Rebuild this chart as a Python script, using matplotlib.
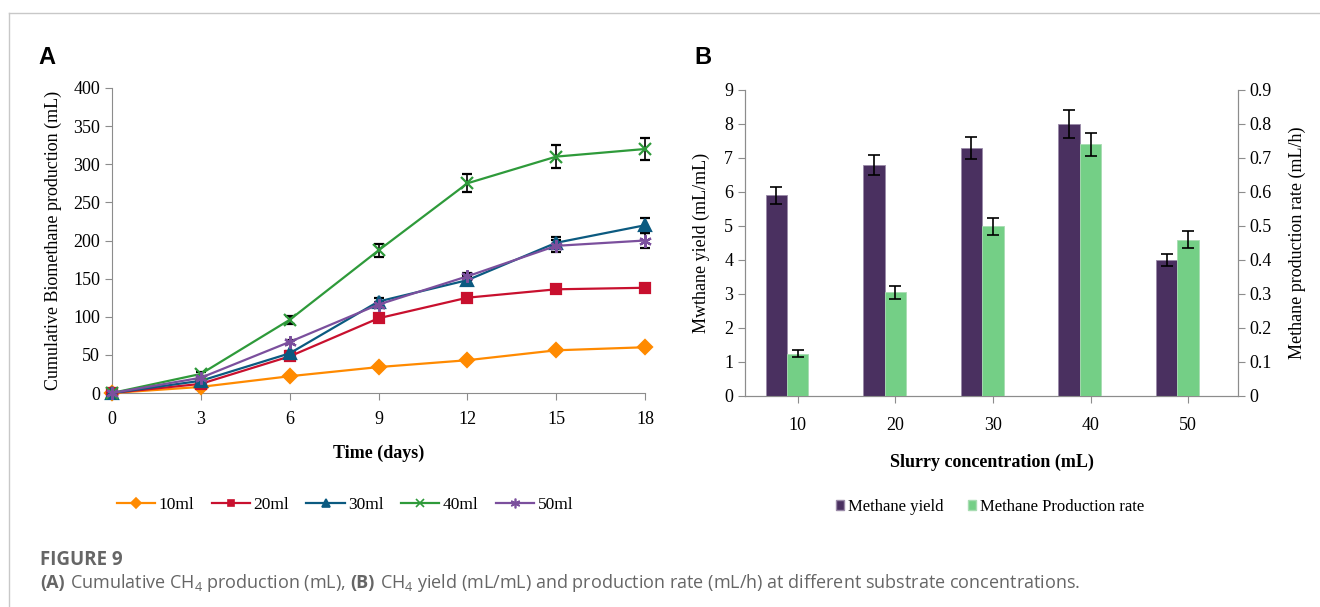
import numpy as np
import matplotlib
matplotlib.use("Agg")
import matplotlib.pyplot as plt
from matplotlib.lines import Line2D
from matplotlib.patches import Patch

plt.rcParams['font.family'] = ['Liberation Serif', 'DejaVu Serif']
plt.rcParams['mathtext.fontset'] = 'custom'
plt.rcParams['mathtext.rm'] = 'Open Sans'
plt.rcParams['mathtext.it'] = 'Open Sans'
plt.rcParams['mathtext.bf'] = 'Open Sans:bold'

# panel A data
days = [0, 3, 6, 9, 12, 15, 18]
s10 = [0, 8, 22, 34, 43, 56, 60]
s20 = [0, 12, 48, 98, 125, 136, 138]
s30 = [0, 16, 52, 120, 148, 197, 220]
s40 = [0, 25, 96, 187, 275, 310, 320]
s50 = [0, 20, 67, 116, 153, 193, 200]
e10 = [0, 1, 1, 2, 2, 2, 2]
e20 = [0, 1, 2, 3, 3, 3, 3]
e30 = [0, 2, 3, 4, 5, 8, 10]
e40 = [0, 3, 5, 8, 12, 15, 15]
e50 = [0, 2, 3, 4, 5, 8, 10]
series_names = ['10ml', '20ml', '30ml', '40ml', '50ml']

# panel B data
conc = ['10', '20', '30', '40', '50']
yield_vals = [5.9, 6.8, 7.3, 8.0, 4.0]
yield_err = [0.25, 0.3, 0.33, 0.4, 0.18]
rate_vals = [0.125, 0.305, 0.50, 0.74, 0.46]
rate_err = [0.01, 0.02, 0.025, 0.035, 0.025]

W, H = 1320, 607
fig = plt.figure(figsize=(W / 100, H / 100), dpi=100)

def fx(px):
    return px / W

def fy(py):
    return 1 - py / H

# outer frame lines
fig.add_artist(Line2D([fx(9), 1], [fy(13), fy(13)], color='#c8c8c8', lw=1))
fig.add_artist(Line2D([fx(9), fx(9)], [fy(13), 0], color='#c8c8c8', lw=1))

spine_c = '#8c8c8c'
tsize = 13

# ---------- panel A ----------
axA = fig.add_axes([fx(112), fy(393), fx(645) - fx(112), fy(88) - fy(393)])
colors = ['#ff8a00', '#c8102e', '#0b5a80', '#2e9a3a', '#7b4f9d']
markers = ['D', 's', '^', 'x', (6, 2, 0)]
msizes = [7, 7, 8, 8, 9]
data = [s10, s20, s30, s40, s50]
errs = [e10, e20, e30, e40, e50]
handlesA = []
for vals, er, c, m, ms, name in zip(data, errs, colors, markers, msizes, series_names):
    axA.errorbar(days, vals, yerr=er, color=c, marker=m, ms=ms, lw=1.6,
                 mew=1.6, ecolor='black', elinewidth=1.2, capsize=3.5,
                 capthick=1.2, clip_on=False, zorder=3)
    handlesA.append(Line2D([], [], color=c, marker=m, ms=ms - 2, lw=1.6,
                           mew=1.2))
axA.set_xlim(0, 18)
axA.set_ylim(0, 400)
axA.set_xticks(days)
axA.set_yticks(np.arange(0, 401, 50))
for s in ['top', 'right']:
    axA.spines[s].set_visible(False)
for s in ['left', 'bottom']:
    axA.spines[s].set_color(spine_c)
axA.tick_params(direction='out', color=spine_c, labelsize=tsize, length=5)
axA.tick_params(axis='x', pad=8)
axA.set_xlabel('Time (days)', fontsize=tsize, fontweight='bold', labelpad=12)
axA.set_ylabel('Cumulative Biomethane production (mL)', fontsize=tsize, labelpad=8)

fig.legend(handlesA, series_names, loc='center', bbox_to_anchor=(fx(345), fy(505)),
           ncol=5, frameon=False, fontsize=12.5, handlelength=2.2,
           columnspacing=1.0, handletextpad=0.2)

fig.text(fx(38), fy(58), 'A', fontsize=17, fontweight='bold',
         family='Liberation Sans', va='center')

# ---------- panel B ----------
axB = fig.add_axes([fx(745), fy(396), fx(1238) - fx(745), fy(90) - fy(396)])
axB2 = axB.twinx()
xpos = np.arange(len(conc))
bw = 0.22
axB.bar(xpos - bw, yield_vals, width=bw, color='#4a3060', edgecolor='#9a8aa8',
        lw=0.6, yerr=yield_err, capsize=4,
        error_kw=dict(elinewidth=1.2, capthick=1.2, ecolor='black'),
        zorder=3)
axB2.bar(xpos, rate_vals, width=bw, color='#74cf86', edgecolor='#a8dcb2',
         lw=0.6, yerr=rate_err, capsize=4,
         error_kw=dict(elinewidth=1.2, capthick=1.2, ecolor='black'),
         zorder=3)
axB.set_xlim(-0.54, 4.51)
axB.set_ylim(0, 9)
axB2.set_ylim(0, 0.9)
axB.set_xticks(xpos)
axB.set_xticklabels(conc)
axB.set_yticks(np.arange(0, 10, 1))
axB2.set_yticks(np.arange(0, 0.91, 0.1))
axB2.set_yticklabels(['0'] + ['%.1f' % v for v in np.arange(0.1, 0.91, 0.1)])
for a in (axB, axB2):
    a.spines['top'].set_visible(False)
    for s in ['left', 'right', 'bottom']:
        a.spines[s].set_color(spine_c)
    a.tick_params(direction='out', color=spine_c, labelsize=tsize, length=5)
axB.tick_params(axis='x', pad=10)
axB.set_xlabel('Slurry concentration (mL)', fontsize=tsize, fontweight='bold',
               labelpad=14)
axB.set_ylabel('Mwthane yield (mL/mL)', fontsize=tsize, labelpad=10)
axB2.set_ylabel('Methane production rate (mL/h)', fontsize=tsize, labelpad=12)

handlesB = [Patch(facecolor='#4a3060', edgecolor='#9a8aa8'),
            Patch(facecolor='#74cf86', edgecolor='#a8dcb2')]
fig.legend(handlesB, ['Methane yield', 'Methane Production rate'], loc='center',
           bbox_to_anchor=(fx(990), fy(507)), ncol=2, frameon=False,
           fontsize=12, handlelength=0.5, handleheight=0.6,
           handletextpad=0.2, columnspacing=1.5)

fig.text(fx(694), fy(58), 'B', fontsize=17, fontweight='bold',
         family='Liberation Sans', va='center')

# ---------- caption ----------
cap_c = '#666666'
fig.text(fx(40), fy(560), 'FIGURE 9', fontsize=13.5, color=cap_c,
         family='Open Sans', fontweight='bold', va='center')

renderer = fig.canvas.get_renderer()
parts = [('(A)', 'bold', 5), ('Cumulative CH$_4$ production (mL),', 'normal', 5),
         ('(B)', 'bold', 5),
         ('CH$_4$ yield (mL/mL) and production rate (mL/h) at different substrate concentrations.', 'normal', 0)]
xcur = 40
for txt, wt, gap in parts:
    t = fig.text(fx(xcur), fy(583), txt, fontsize=13, color=cap_c,
                 family='Open Sans', fontweight=wt, va='center')
    bb = t.get_window_extent(renderer)
    xcur += bb.width + gap

fig.savefig('out.png', dpi=100)
